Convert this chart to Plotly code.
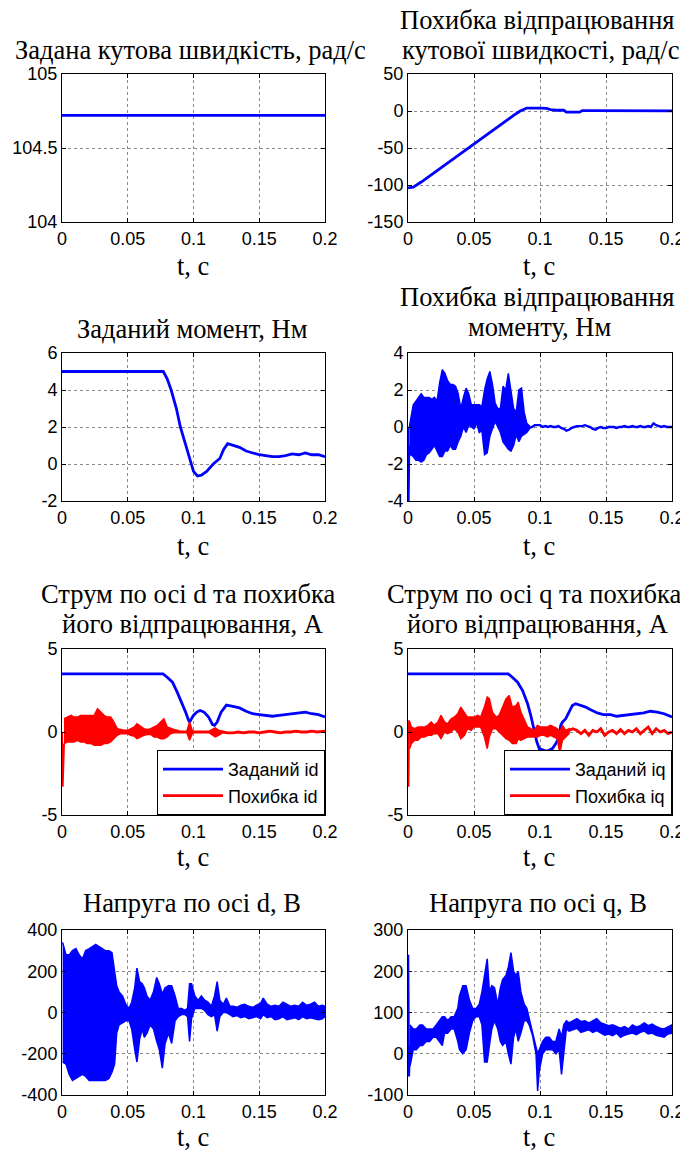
import plotly.graph_objects as go

# The page body has an 8 px margin, so the figure is drawn 8 px smaller and
# every pixel position below (measured on the reference) is shifted by OFF.
PAGE_W, PAGE_H, OFF = 688, 1151, 8
W, H = PAGE_W - OFF, PAGE_H - OFF
BLUE = '#0000ff'
RED = '#ff0000'

# ---------------- data ----------------
x_ticks = [0, 0.05, 0.1, 0.15, 0.2]
x_tick_labels = ['0', '0.05', '0.1', '0.15', '0.2']

# 1. reference speed
t_w_ref = [0, 0.2]
w_ref = [104.72, 104.72]

# 2. speed error
t_w_err = [0, 0.004, 0.01, 0.02, 0.03, 0.04, 0.05, 0.06, 0.07, 0.08, 0.085, 0.088, 0.09,
           0.1, 0.105, 0.108, 0.112, 0.118, 0.12, 0.13, 0.132, 0.14, 0.2]
w_err = [-104, -103, -96, -83, -70, -57, -45, -32, -19, -6, 0, 2.5, 4,
         4, 3.5, 2, 1, 1, -1.5, -1.5, 0.5, 0.5, 0.3]

# 3. reference torque
t_m_ref = [0, 0.077, 0.08, 0.083, 0.087, 0.09, 0.095, 0.1, 0.103, 0.106, 0.11, 0.115, 0.12,
           0.123, 0.126, 0.13, 0.135, 0.14, 0.145, 0.15, 0.155, 0.16, 0.165, 0.17, 0.175,
           0.18, 0.185, 0.19, 0.195, 0.2]
m_ref = [5, 5, 4.6, 4.0, 3.0, 2.0, 0.8, -0.4, -0.65, -0.6, -0.4, 0.0, 0.3,
         0.8, 1.1, 1.0, 0.9, 0.7, 0.6, 0.5, 0.45, 0.4, 0.4, 0.45, 0.55,
         0.5, 0.6, 0.5, 0.5, 0.4]

# 4. torque error: start spike, noisy band (upper/lower envelope), quiet tail
t_m_spk = [0, 0.0005, 0.001]
m_spk = [0, -4.0, -1.0]
t_m_band = [0.001, 0.002, 0.004, 0.006, 0.008, 0.010, 0.012, 0.014, 0.016, 0.018, 0.020,
            0.022, 0.024, 0.026, 0.028, 0.030, 0.032, 0.034, 0.036, 0.038, 0.040, 0.042,
            0.044, 0.046, 0.048, 0.050, 0.052, 0.054, 0.056, 0.058, 0.060, 0.062, 0.064,
            0.066, 0.068, 0.070, 0.072, 0.074, 0.076, 0.078, 0.080, 0.082, 0.084, 0.086,
            0.088, 0.090, 0.092]
m_hi = [0.0, 0.4, 1.2, 1.4, 1.6, 1.8, 1.6, 1.6, 1.6, 1.5, 1.6, 1.4, 2.4, 3.1, 2.9, 2.5,
        2.3, 2.3, 2.2, 1.8, 1.0, 1.6, 2.1, 1.8, 1.2, 1.2, 1.2, 1.2, 1.1, 2.0, 2.6, 3.0,
        2.3, 1.3, 1.0, 1.0, 2.2, 2.0, 2.9, 2.0, 1.0, 0.8, 2.0, 2.1, 0.8, 0.2, 0.05]
m_lo = [-1.5, -1.5, -1.6, -1.8, -1.8, -1.9, -1.8, -1.5, -1.4, -1.2, -1.0, -1.3, -1.6, -1.6,
        -1.3, -1.3, -1.0, -1.2, -1.2, -0.8, -0.5, 0.0, -0.3, 0.1, 0.0, -0.1, 0.2, -0.3,
        -0.2, -1.5, -1.4, -0.5, -0.1, 0.3, 0.0, -0.3, -0.8, -1.0, -1.2, -1.3, -1.0, -0.4,
        -0.8, -0.5, -0.4, -0.3, -0.1]
t_m_tail = [0.092, 0.094, 0.096, 0.098, 0.100, 0.102, 0.104, 0.106, 0.108, 0.110, 0.112,
            0.114, 0.116, 0.118, 0.120, 0.122, 0.124, 0.126, 0.128, 0.130, 0.132, 0.134,
            0.136, 0.138, 0.140, 0.142, 0.144, 0.146, 0.148, 0.150, 0.152, 0.154, 0.156,
            0.158, 0.160, 0.162, 0.164, 0.166, 0.168, 0.170, 0.172, 0.174, 0.176, 0.178,
            0.180, 0.182, 0.184, 0.186, 0.188, 0.190, 0.192, 0.194, 0.196, 0.198, 0.200]
m_tail = [-0.05, 0.0, 0.1, 0.1, 0.1, 0.0, 0.05, 0.0, 0.05, 0.0, 0.0,
          0.05, -0.05, -0.1, -0.2, -0.15, -0.05, 0.0, 0.05, 0.05, 0.05, 0.1,
          0.05, 0.0, -0.1, -0.15, -0.05, 0.0, -0.05, -0.05, 0.0, 0.0, 0.0,
          -0.05, 0.0, 0.0, 0.05, 0.0, 0.0, 0.05, 0.0, 0.0, 0.05, 0.0,
          0.0, 0.05, 0.0, 0.2, 0.1, 0.05, 0.0, 0.05, 0.0, 0.0, 0.0]

# 5. d-axis current: reference and error
t_id_ref = [0, 0.0768, 0.080, 0.084, 0.0876, 0.0915, 0.094, 0.096, 0.097, 0.1, 0.1025,
            0.105, 0.108, 0.1115, 0.1145, 0.116, 0.118, 0.121, 0.125, 0.130, 0.135, 0.140,
            0.145, 0.150, 0.155, 0.160, 0.165, 0.170, 0.175, 0.180, 0.185, 0.190, 0.195, 0.2]
id_ref = [3.5, 3.5, 3.3, 3.0, 2.4, 1.7, 1.2, 0.75, 0.6, 1.0, 1.2,
          1.3, 1.2, 0.9, 0.45, 0.4, 0.6, 1.2, 1.62, 1.55, 1.45, 1.25,
          1.1, 1.05, 1.0, 0.95, 1.0, 1.05, 1.1, 1.15, 1.2, 1.1, 1.05, 0.9]
t_id_spk = [0, 0.0005, 0.0015]
id_spk = [0, -3.3, -0.7]
t_id_band = [0.0015, 0.004, 0.007, 0.009, 0.012, 0.014, 0.017, 0.019, 0.022, 0.0245, 0.027,
             0.0295, 0.032, 0.0345, 0.037, 0.0395, 0.042, 0.0447, 0.047, 0.050, 0.052, 0.055,
             0.057, 0.060, 0.0623, 0.065, 0.0675, 0.070, 0.0725, 0.075, 0.0775, 0.080,
             0.0825, 0.085, 0.0876, 0.090, 0.0925, 0.095, 0.097, 0.099, 0.1, 0.104, 0.108,
             0.112, 0.1165, 0.119, 0.122]
id_hi = [0.8, 0.9, 1.0, 0.9, 0.9, 1.0, 1.0, 1.0, 1.0, 1.0, 1.4, 1.2, 1.0, 0.9, 0.9, 0.6,
         0.2, 0.15, 0.1, 0.1, 0.2, 0.3, 0.5, 0.3, 0.2, 0.15, 0.2, 0.3, 0.4, 0.6, 0.8, 0.3,
         0.2, 0.15, 0.1, 0.05, 0.05, 0.05, 0.6, 0.1, 0.05, 0.05, 0.05, 0.05, 0.25, 0.1, 0.05]
id_lo = [-0.7, -0.6, -0.6, -0.6, -0.5, -0.6, -0.6, -0.7, -0.7, -0.8, -0.8, -0.8, -0.7, -0.7,
         -0.6, -0.4, -0.2, -0.1, -0.1, -0.1, -0.2, -0.25, -0.4, -0.3, -0.2, -0.15, -0.15,
         -0.3, -0.3, -0.4, -0.4, -0.3, -0.1, -0.05, -0.05, -0.05, -0.05, -0.05, -0.5, -0.1,
         -0.05, -0.05, -0.05, -0.05, -0.3, -0.2, -0.05]
t_id_tail = [0.122, 0.126, 0.13, 0.134, 0.138, 0.142, 0.146, 0.15, 0.154, 0.158, 0.162,
             0.166, 0.17, 0.174, 0.178, 0.182, 0.186, 0.19, 0.194, 0.198, 0.2]
id_tail = [0.0, -0.05, -0.05, 0.0, -0.05, 0.0, 0.0, -0.05, 0.0, 0.05, 0.0,
           -0.05, 0.0, 0.0, 0.05, 0.0, 0.0, 0.05, 0.0, 0.05, 0.05]

# 6. q-axis current: reference and error
t_iq_ref = [0, 0.076, 0.079, 0.083, 0.0868, 0.0906, 0.093, 0.0956, 0.0976, 0.0994, 0.102,
            0.1044, 0.107, 0.1094, 0.112, 0.1145, 0.1157, 0.117, 0.1195, 0.122, 0.1245, 0.127,
            0.131, 0.1346, 0.138, 0.1434, 0.148, 0.1535, 0.158, 0.1635, 0.1686, 0.1736,
            0.1786, 0.1836, 0.1887, 0.194, 0.2]
iq_ref = [3.5, 3.5, 3.3, 3.0, 2.5, 1.7, 1.0, 0.1, -0.6, -1.0, -1.1,
          -1.15, -1.1, -1.0, -0.7, -0.3, 0.4, 0.6, 0.8, 1.2, 1.6, 1.7,
          1.6, 1.5, 1.35, 1.15, 1.05, 1.05, 0.95, 1.0, 1.05, 1.1,
          1.15, 1.25, 1.2, 1.1, 0.9]
t_iq_spk = [0, 0.0003, 0.0008, 0.0013]
iq_spk = [0, -3.3, 0.7, 0.0]
t_iq_band = [0.0013, 0.0025, 0.005, 0.0075, 0.010, 0.0126, 0.015, 0.0176, 0.020, 0.0226,
             0.025, 0.0277, 0.030, 0.0327, 0.035, 0.0377, 0.040, 0.0428, 0.045, 0.0478,
             0.050, 0.0528, 0.055, 0.0579, 0.060, 0.0616, 0.064, 0.0667, 0.069, 0.0717,
             0.0742, 0.0767, 0.079, 0.082, 0.0835, 0.0855, 0.088, 0.0906, 0.093, 0.0956,
             0.098, 0.1005, 0.103, 0.1056, 0.108, 0.1106, 0.113, 0.115, 0.117, 0.1195, 0.122]
iq_hi = [0.6, 0.3, 0.2, 0.3, 0.3, 0.3, 0.4, 0.6, 0.4, 0.6, 1.0, 0.6, 0.5, 0.8, 0.9, 1.1,
         1.5, 1.2, 0.9, 0.9, 0.9, 1.0, 0.9, 1.5, 2.1, 2.0, 1.2, 0.9, 1.0, 1.5, 2.0, 2.2,
         1.5, 1.6, 1.8, 1.2, 0.7, 0.3, 0.2, 0.1, 0.4, 0.3, 0.3, 0.3, 0.4, 0.3, 0.2, 0.0,
         0.4, 0.1, 0.2]
iq_lo = [-1.0, -0.7, -0.5, -0.5, -0.3, -0.3, -0.2, -0.2, -0.1, -0.1, -0.4, 0.0, -0.1, 0.0,
         0.2, 0.0, -0.4, -0.2, 0.2, 0.1, 0.3, 0.3, 0.3, -0.3, -1.0, -0.3, 0.2, 0.2, 0.0,
         -0.2, -0.4, -0.5, -0.7, -0.7, -0.4, -0.5, -0.4, -0.3, -0.3, -0.3, -0.3, -0.2,
         -0.2, -0.3, -0.2, -0.3, -0.4, -1.25, -0.5, -0.3, -0.1]
t_iq_tail = [0.122, 0.125, 0.128, 0.131, 0.134, 0.137, 0.140, 0.143, 0.146, 0.149, 0.152,
             0.155, 0.158, 0.161, 0.164, 0.167, 0.170, 0.173, 0.176, 0.179, 0.182, 0.185,
             0.188, 0.191, 0.194, 0.197, 0.200]
iq_tail = [0.1, 0.2, 0.1, -0.1, 0.1, -0.2, 0.1, 0.0, 0.2, -0.2, 0.0,
           0.1, -0.1, 0.15, -0.1, 0.1, 0.0, 0.2, -0.1, 0.1, 0.3, -0.1,
           0.2, 0.0, 0.1, -0.1, 0.0]

# 7. d-axis voltage (upper / lower envelope)
t_ud = [0.0005, 0.003, 0.0055, 0.008, 0.0106, 0.013, 0.0156, 0.018, 0.0207, 0.023, 0.0257,
        0.028, 0.0307, 0.033, 0.0357, 0.038, 0.040, 0.0416, 0.0434, 0.046, 0.0485, 0.051,
        0.053, 0.0553, 0.057, 0.059, 0.061, 0.0626, 0.0646, 0.067, 0.0696, 0.072, 0.074,
        0.0763, 0.0784, 0.081, 0.0834, 0.086, 0.0884, 0.091, 0.0935, 0.0955, 0.097, 0.0985,
        0.101, 0.1035, 0.106, 0.1085, 0.111, 0.1136, 0.116, 0.118, 0.120, 0.1226, 0.125,
        0.1277, 0.130, 0.133, 0.136, 0.139, 0.142, 0.145, 0.148, 0.151, 0.153, 0.156,
        0.159, 0.162, 0.165, 0.168, 0.171, 0.174, 0.177, 0.180, 0.183, 0.186, 0.189,
        0.192, 0.195, 0.198, 0.200]
ud_hi = [340, 280, 280, 300, 310, 280, 260, 300, 310, 320, 330, 320, 310, 300, 300, 290,
         200, 130, 100, 80, 40, 20, 50, 120, 215, 150, 140, 120, 80, 60, 100, 170, 140, 90,
         120, 130, 130, 80, 20, 20, 10, 20, 140, 140, 80, 60, 80, 60, 50, 30, 80, 150, 60,
         40, 70, 30, 30, 25, 35, 40, 30, 25, 35, 45, 70, 40, 30, 35, 30, 50, 40, 30, 35,
         30, 50, 35, 40, 50, 30, 35, 30]
ud_lo = [-240, -250, -300, -330, -320, -310, -300, -310, -330, -330, -330, -330, -330, -330,
         -320, -290, -250, -100, -60, -50, -40, -40, -80, -180, -240, -130, -80, -120, -100,
         -60, -80, -140, -180, -270, -150, -100, -150, -40, -20, -10, -10, -20, -140, -30,
         20, 20, 20, 10, -10, -20, -10, -90, -20, 0, 0, -10, -20, -15, -25, -20, -30, -25,
         -20, -30, -10, -25, -20, -35, -30, -20, -35, -30, -25, -35, -20, -30, -25, -30,
         -35, -30, -20]

# 8. q-axis voltage: start spike and envelope
t_uq_spk = [0, 0.0002, 0.0008, 0.0015]
uq_spk = [50, 240, -55, 20]
t_uq = [0.0015, 0.004, 0.0063, 0.009, 0.011, 0.0138, 0.0164, 0.019, 0.0214, 0.024, 0.026,
        0.0277, 0.030, 0.0327, 0.035, 0.0377, 0.039, 0.0415, 0.044, 0.0465, 0.049, 0.0516,
        0.054, 0.056, 0.058, 0.060, 0.0617, 0.0635, 0.0655, 0.068, 0.070, 0.0717, 0.0742,
        0.076, 0.078, 0.080, 0.0817, 0.0835, 0.0855, 0.088, 0.090, 0.0918, 0.0943, 0.097,
        0.0982, 0.0995, 0.102, 0.1044, 0.107, 0.1094, 0.112, 0.1145, 0.1163, 0.118,
        0.120, 0.122, 0.125, 0.128, 0.131, 0.134, 0.137, 0.140, 0.143, 0.146, 0.149, 0.152,
        0.155, 0.158, 0.161, 0.164, 0.167, 0.170, 0.173, 0.176, 0.179, 0.182, 0.185, 0.188,
        0.191, 0.194, 0.197, 0.200]
uq_hi = [70, 60, 60, 70, 70, 60, 60, 60, 70, 80, 90, 90, 80, 90, 90, 110, 140, 165, 165, 130,
         110, 110, 120, 150, 190, 230, 150, 165, 160, 120, 160, 180, 190, 210, 245, 200, 190,
         200, 150, 120, 110, 85, 55, 10, 0, 10, 30, 40, 40, 30, 30, 60, 40, 70,
         80, 75, 80, 85, 78, 80, 75, 80, 85, 75, 72, 68, 70, 65, 62, 66, 60, 70, 65, 68,
         75, 68, 72, 66, 62, 60, 65, 70]
uq_lo = [-30, 10, 10, 20, 20, 30, 30, 40, 40, 30, 20, 50, 50, 60, 60, 30, 10, 0, 10, 50, 80,
         90, 90, 70, -20, -20, 20, 60, 80, 60, 30, 20, 30, 0, -25, 40, 60, 30, 50, 80, 80,
         70, 45, 0, -90, -40, 0, 10, 10, 10, 0, 10, -50, 0,
         60, 55, 58, 62, 52, 55, 58, 52, 56, 50, 45, 48, 44, 50, 40, 45, 48, 50, 46, 52,
         55, 48, 50, 45, 42, 40, 48, 50]

# axis ranges and tick labels per panel
y_ranges = [[104, 105], [-150, 50], [-2, 6], [-4, 4], [-5, 5], [-5, 5], [-400, 400], [-100, 300]]
y_ticks = [[104, 104.5, 105], [-150, -100, -50, 0, 50], [-2, 0, 2, 4, 6], [-4, -2, 0, 2, 4],
           [-5, 0, 5], [-5, 0, 5], [-400, -200, 0, 200, 400], [-100, 0, 100, 200, 300]]
y_tick_labels = [['104', '104.5', '105'], ['-150', '-100', '-50', '0', '50'],
                 ['-2', '0', '2', '4', '6'], ['-4', '-2', '0', '2', '4'],
                 ['-5', '0', '5'], ['-5', '0', '5'],
                 ['-400', '-200', '0', '200', '400'], ['-100', '0', '100', '200', '300']]

# titles: (text, centre x px, middle y px) in reference page pixels
titles = [
    ('Задана кутова швидкість, рад/с', 190, 50),
    ('Похибка відпрацювання', 537, 20.5),
    ('кутової швидкості, рад/с', 540, 50),
    ('Заданий момент, Нм', 192, 329),
    ('Похибка відпрацювання', 537, 297),
    ('моменту, Нм', 539, 327),
    ('Струм по осі d та похибка', 188, 594),
    ('його відпрацювання, А', 192, 624),
    ('Струм по осі q та похибка', 534, 594),
    ('його відпрацювання, А', 537, 624),
    ('Напруга по осі d, В', 192, 903),
    ('Напруга по осі q, В', 538, 903),
]
xlabel_rows = [266, 546, 857, 1137]

# ---------------- layout geometry (reference page pixels) ----------------
col_px = [(62, 325), (408, 672)]
row_px = [(74, 222), (353, 501), (649, 815), (930, 1095)]

SANS = 'Liberation Sans, Arial, sans-serif'
SERIF = 'Liberation Serif, Times New Roman, serif'
TITLE_SIZE = 26.5


def px(xp):
    return (xp - OFF) / W


def py(yp):
    return 1 - (yp - OFF) / H


fig = go.Figure()


def ax(k):
    return ('x' if k == 1 else 'x%d' % k), ('y' if k == 1 else 'y%d' % k)


def line(k, t, y, color, name=None, legend=None, width=2.8):
    xa, ya = ax(k)
    fig.add_trace(go.Scatter(x=t, y=y, mode='lines', line=dict(color=color, width=width),
                             xaxis=xa, yaxis=ya, name=name or '',
                             showlegend=name is not None,
                             legend=legend or 'legend', hoverinfo='skip'))


def band(k, t, hi, lo, color):
    xa, ya = ax(k)
    fig.add_trace(go.Scatter(x=list(t) + list(t)[::-1], y=list(hi) + list(lo)[::-1],
                             mode='lines', fill='toself', fillcolor=color,
                             line=dict(color=color, width=1.5),
                             xaxis=xa, yaxis=ya, showlegend=False, hoverinfo='skip'))


line(1, t_w_ref, w_ref, BLUE)
line(2, t_w_err, w_err, BLUE)
line(3, t_m_ref, m_ref, BLUE)
band(4, t_m_band, m_hi, m_lo, BLUE)
line(4, t_m_spk, m_spk, BLUE, width=2)
line(4, t_m_tail, m_tail, BLUE, width=2.4)

line(5, t_id_ref, id_ref, BLUE, name='Заданий id', legend='legend')
band(5, t_id_band, id_hi, id_lo, RED)
line(5, t_id_spk, id_spk, RED, width=2)
line(5, t_id_tail, id_tail, RED, name='Похибка id', legend='legend')

line(6, t_iq_ref, iq_ref, BLUE, name='Заданий iq', legend='legend2')
band(6, t_iq_band, iq_hi, iq_lo, RED)
line(6, t_iq_spk, iq_spk, RED, width=2)
line(6, t_iq_tail, iq_tail, RED, name='Похибка iq', legend='legend2')

band(7, t_ud, ud_hi, ud_lo, BLUE)
band(8, t_uq, uq_hi, uq_lo, BLUE)
line(8, t_uq_spk, uq_spk, BLUE, width=2)

layout = dict(width=W, height=H, margin=dict(l=0, r=0, t=0, b=0, autoexpand=False),
              paper_bgcolor='white', plot_bgcolor='white', showlegend=True,
              annotations=[])

for k in range(1, 9):
    r, c = (k - 1) // 2, (k - 1) % 2
    x0, x1 = col_px[c]
    y0, y1 = row_px[r]
    xa, ya = ax(k)
    common = dict(ticks='inside', ticklen=4, tickcolor='black', tickwidth=1,
                  showline=True, linecolor='black', linewidth=1, mirror='ticks',
                  showgrid=True, gridcolor='#8a8a8a', griddash='dot', gridwidth=1,
                  zeroline=False, tickfont=dict(family=SANS, size=18, color='black'),
                  fixedrange=True, automargin=False)
    layout['xaxis' if k == 1 else 'xaxis%d' % k] = dict(
        domain=[px(x0), px(x1)], anchor=ya, range=[0, 0.2],
        tickmode='array', tickvals=x_ticks, ticktext=x_tick_labels, **common)
    layout['yaxis' if k == 1 else 'yaxis%d' % k] = dict(
        domain=[py(y1), py(y0)], anchor=xa, range=y_ranges[k - 1],
        tickmode='array', tickvals=y_ticks[k - 1], ticktext=y_tick_labels[k - 1], **common)

for text, xp, yp in titles:
    layout['annotations'].append(dict(
        text=text, x=px(xp), y=py(yp), xref='paper', yref='paper',
        xanchor='center', yanchor='middle', showarrow=False,
        font=dict(family=SERIF, size=TITLE_SIZE, color='black')))

for r, yp in enumerate(xlabel_rows):
    for c in range(2):
        x0, x1 = col_px[c]
        layout['annotations'].append(dict(
            text='t, с', x=px((x0 + x1) / 2 - 1), y=py(yp), xref='paper', yref='paper',
            xanchor='center', yanchor='middle', showarrow=False,
            font=dict(family=SERIF, size=TITLE_SIZE, color='black')))

leg_common = dict(xanchor='right', yanchor='bottom', bgcolor='white', bordercolor='black',
                  borderwidth=1, font=dict(family=SANS, size=18, color='black'),
                  tracegroupgap=0, itemwidth=60)
layout['legend'] = dict(x=px(325), y=py(815), **leg_common)
layout['legend2'] = dict(x=px(672), y=py(815), **leg_common)

fig.update_layout(**layout)
fig.write_html('out.html')
